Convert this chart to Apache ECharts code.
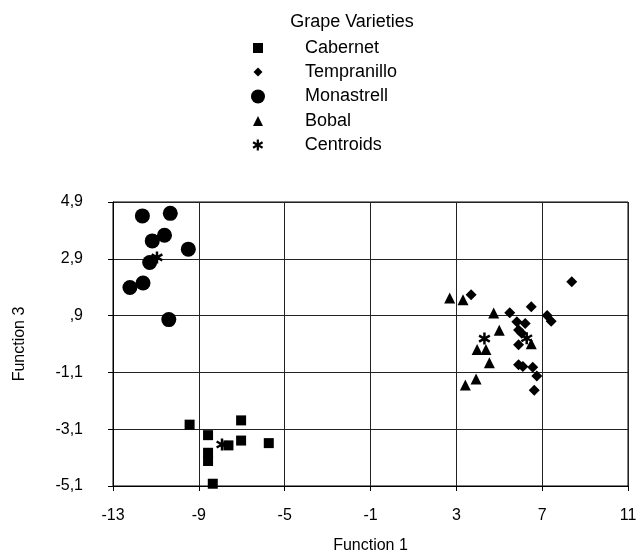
<!DOCTYPE html>
<html>
<head>
<meta charset="utf-8">
<script src="https://cdn.jsdelivr.net/npm/echarts@6/dist/echarts.min.js"></script>
<style>
  html, body { margin: 0; padding: 0; background: #fff; }
  #chart { width: 644px; height: 559px; }
</style>
</head>
<body>
<div id="chart"></div>
<script>
// values
const cabernetX = [-9.43, -7.03, -8.57, -7.03, -5.74, -7.62, -8.57, -8.57, -8.35];
const cabernetY = [-2.94, -2.79, -3.31, -3.50, -3.59, -3.67, -3.93, -4.22, -5.02];

const tempranilloX = [8.38, 3.69, 6.49, 5.49, 7.23, 7.42, 5.82, 6.21, 5.90, 6.05, 5.90, 5.90, 6.10, 6.56, 6.75, 6.63];
const tempranilloY = [2.09, 1.63, 1.21, 1.00, 0.90, 0.70, 0.68, 0.62, 0.39, 0.28, -0.13, -0.83, -0.89, -0.92, -1.23, -1.73];

const monastrellX = [-11.63, -10.33, -11.17, -10.60, -9.49, -11.29, -12.21, -11.60, -10.40];
const monastrellY = [4.41, 4.50, 3.53, 3.73, 3.24, 2.77, 1.89, 2.05, 0.76];

const bobalX = [2.69, 3.31, 4.74, 5.00, 3.97, 4.38, 4.54, 3.42, 3.92, 6.49];
const bobalY = [1.52, 1.46, 0.99, 0.38, -0.29, -0.29, -0.76, -1.54, -1.33, -0.09];

const centroidX = [-7.92, 6.28, -10.95, 4.31];
const centroidY = [-3.64, 0.10, 2.95, 0.09];

const varieties = ['Cabernet', 'Tempranillo', 'Monastrell', 'Bobal', 'Centroids'];

const xTicks = [-13, -9, -5, -1, 3, 7, 11];
const yTicks = [-5.1, -3.1, -1.1, 0.9, 2.9, 4.9];

const FONT = 'Liberation Sans, Arial, sans-serif';

// asterisk used for the centroids
const STAR = 'path://M-1,-5L1,-5L1,5L-1,5Z' +
  'M-4.83,-1.63L-3.83,-3.37L4.83,1.63L3.83,3.37Z' +
  'M-3.83,3.37L-4.83,1.63L3.83,-3.37L4.83,-1.63Z';

const symbols = ['rect', 'diamond', 'circle', 'triangle', STAR];
const sizes = [10, 11, 15, 11, 12];
const legendSizes = [10, 9, 14, 10, 11];
const rowY = [48, 72, 96.5, 121, 145];

function pairs(xs, ys) {
  return xs.map((x, i) => [x, ys[i]]);
}

// 4,9  ,9  -1,1 ...
function fmtComma(v) {
  let s = Math.abs(v).toFixed(1);
  if (s.indexOf('0.') === 0) s = s.slice(1);
  s = s.replace('.', ',');
  return (v < 0 ? '-' : '') + s;
}

const chart = echarts.init(document.getElementById('chart'));

const dataSets = [
  pairs(cabernetX, cabernetY),
  pairs(tempranilloX, tempranilloY),
  pairs(monastrellX, monastrellY),
  pairs(bobalX, bobalY),
  pairs(centroidX, centroidY)
];

const series = varieties.map((name, i) => ({
  name: name,
  type: 'scatter',
  symbol: symbols[i],
  symbolSize: sizes[i],
  itemStyle: { color: '#000', opacity: 1 },
  data: dataSets[i],
  z: i === 4 ? 5 : 3,
  emphasis: { disabled: true },
  silent: true
}));

const legends = varieties.map((name, i) => {
  const s = legendSizes[i];
  return {
    orient: 'vertical',
    padding: 0,
    left: 258 - s / 2,
    top: rowY[i] - 9,
    itemWidth: s,
    itemHeight: s,
    selectedMode: false,
    data: [name],
    textStyle: {
      fontFamily: FONT,
      fontSize: 18,
      color: '#000',
      padding: [0, 0, 0, 42 - s / 2]
    }
  };
});

const option = {
  animation: false,
  backgroundColor: '#fff',
  textStyle: { fontFamily: FONT },
  graphic: [{
    type: 'text',
    x: 352,
    y: 22,
    style: {
      text: 'Grape Varieties',
      fill: '#000',
      font: '18px ' + FONT,
      textAlign: 'center',
      textVerticalAlign: 'middle'
    }
  }],
  legend: legends,
  grid: {
    left: 113,
    right: 16,
    top: 202,
    bottom: 73,
    show: true,
    borderColor: '#000',
    borderWidth: 1,
    outerBoundsMode: 'none'
  },
  xAxis: {
    type: 'value',
    min: xTicks[0],
    max: xTicks[xTicks.length - 1],
    interval: 4,
    name: 'Function 1',
    nameLocation: 'middle',
    nameGap: 52,
    nameTextStyle: { fontFamily: FONT, fontSize: 16, color: '#000' },
    axisLine: { show: true, onZero: false, lineStyle: { color: '#000', width: 1 } },
    axisTick: { show: true, length: 5, lineStyle: { color: '#000' } },
    axisLabel: { fontFamily: FONT, fontSize: 16, color: '#000', margin: 22 },
    splitLine: { show: true, lineStyle: { color: '#222', width: 1 } }
  },
  yAxis: {
    type: 'value',
    min: yTicks[0],
    max: yTicks[yTicks.length - 1],
    interval: 2,
    name: 'Function 3',
    nameLocation: 'middle',
    nameGap: 85,
    nameTextStyle: { fontFamily: FONT, fontSize: 16, color: '#000' },
    axisLine: { show: true, onZero: false, lineStyle: { color: '#000', width: 1 } },
    axisTick: { show: true, length: 5, lineStyle: { color: '#000' } },
    axisLabel: {
      fontFamily: FONT, fontSize: 16, color: '#000', margin: 30,
      formatter: fmtComma
    },
    splitLine: { show: true, lineStyle: { color: '#222', width: 1 } }
  },
  series: series
};

chart.setOption(option);
</script>
</body>
</html>
